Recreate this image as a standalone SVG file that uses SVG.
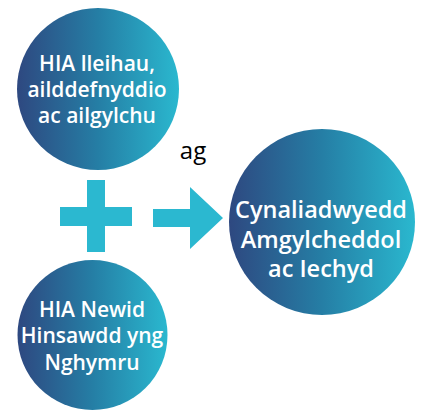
<svg xmlns="http://www.w3.org/2000/svg" width="421" height="412" viewBox="0 0 421 412">
<defs>
<linearGradient id="g" x1="0" y1="0" x2="1" y2="0">
<stop offset="0" stop-color="#2e4880"/>
<stop offset="0.5" stop-color="#257ea5"/>
<stop offset="1" stop-color="#2ab8cf"/>
</linearGradient>
<style>
.c{fill:url(#g)}
.t{font-family:"Open Sans","Noto Sans",sans-serif;font-size:21px;fill:#fff;text-anchor:middle;font-weight:600}
.b{font-size:23.5px}
.s{fill:#2bb8d0}
</style>
</defs>
<rect width="421" height="412" fill="#fff"/>
<g id="n1">
<circle class="c" cx="98" cy="89" r="81"/>
<text class="t" x="97" y="71">HIA lleihau,</text>
<text class="t" x="97" y="97">ailddefnyddio</text>
<text class="t" x="97" y="123">ac ailgylchu</text>
</g>
<g id="n2">
<circle class="c" cx="92.5" cy="335" r="75"/>
<text class="t" x="92" y="317">HIA Newid</text>
<text class="t" x="92" y="343">Hinsawdd yng</text>
<text class="t" x="92" y="370">Nghymru</text>
</g>
<g id="n3">
<circle class="c" cx="322" cy="222" r="93"/>
<text class="t b" x="321" y="218">Cynaliadwyedd</text>
<text class="t b" x="321" y="248">Amgylcheddol</text>
<text class="t b" x="321" y="277">ac Iechyd</text>
</g>
<g id="connectors">
<rect class="s" x="60" y="207" width="72" height="19"/>
<rect class="s" x="87" y="180" width="18" height="72"/>
<polygon class="s" points="153,209 190,209 190,187 223,218 190,249 190,227 153,227"/>
<text x="193" y="159" font-family="'Open Sans','Noto Sans',sans-serif" font-size="24" fill="#000" text-anchor="middle">ag</text>
</g>
</svg>
